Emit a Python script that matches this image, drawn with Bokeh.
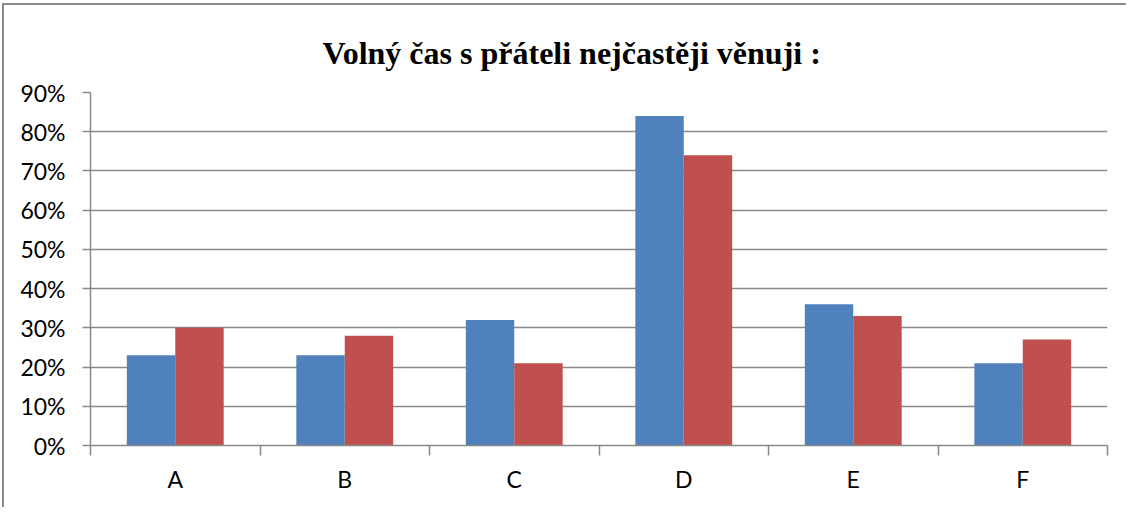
from bokeh.plotting import figure
from bokeh.models import (Range1d, FixedTicker, NumeralTickFormatter, ColumnDataSource)
from bokeh.transform import dodge
from bokeh.embed import file_html
from bokeh.resources import INLINE

categories = ["A", "B", "C", "D", "E", "F"]
series1 = [0.23, 0.23, 0.32, 0.84, 0.36, 0.21]
series2 = [0.30, 0.28, 0.21, 0.74, 0.33, 0.27]
y_ticks = [0.0, 0.1, 0.2, 0.3, 0.4, 0.5, 0.6, 0.7, 0.8, 0.9]
title_text = "Volný čas s přáteli nejčastěji věnuji :"

BLUE = "#4F81BD"
RED = "#C0504D"
GRID = "#898989"

centers = [i + 0.5 for i in range(len(categories))]
src = ColumnDataSource(dict(xc=centers, cat=categories, s1=series1, s2=series2))

p = figure(width=1124, height=504, output_backend="svg", toolbar_location=None,
           x_range=Range1d(0, len(categories)),
           y_range=Range1d(0, 0.9),
           min_border_left=86, min_border_right=21,
           min_border_top=87, min_border_bottom=64)

bar_w = 1 / 3.5
p.vbar(x=dodge("xc", -bar_w / 2), top="s1", width=bar_w,
       source=src, fill_color=BLUE, line_color=None)
p.vbar(x=dodge("xc", bar_w / 2), top="s2", width=bar_w,
       source=src, fill_color=RED, line_color=None)

xax = p.xaxis[0]
xax.ticker = FixedTicker(ticks=centers, minor_ticks=list(range(len(categories) + 1)))
xax.major_label_overrides = {c: lab for c, lab in zip(centers, categories)}
xax.major_tick_line_color = None
xax.major_tick_out = 0
xax.major_tick_in = 0
xax.minor_tick_out = 10
xax.minor_tick_in = 0
xax.minor_tick_line_color = GRID
xax.minor_tick_line_width = 1.5
xax.axis_line_color = GRID
xax.axis_line_width = 1.5
xax.major_label_text_font = "Lato"
xax.major_label_text_font_size = "23px"
xax.major_label_text_color = "#000000"
xax.major_label_standoff = 9

yax = p.yaxis[0]
yax.ticker = FixedTicker(ticks=y_ticks, minor_ticks=[])
yax.formatter = NumeralTickFormatter(format="0%")
yax.major_tick_out = 8
yax.major_tick_in = 0
yax.major_tick_line_color = GRID
yax.major_tick_line_width = 1.5
yax.axis_line_color = GRID
yax.axis_line_width = 1.5
yax.major_label_text_font = "Lato"
yax.major_label_text_font_size = "23px"
yax.major_label_text_color = "#000000"
yax.major_label_standoff = 17

p.xgrid.visible = False
p.ygrid.ticker = FixedTicker(ticks=y_ticks)
p.ygrid.grid_line_color = GRID
p.ygrid.grid_line_width = 1.5
p.outline_line_color = None

p.title.text = title_text
p.title.text_font = "Liberation Serif"
p.title.text_font_style = "bold"
p.title.text_font_size = "32px"
p.title.text_color = "#000000"
p.title.align = "left"
p.title.offset = 232
p.title.vertical_align = "top"
p.title.standoff = 40

p.styles = {"border-top": "2px solid #8a8a8a", "border-left": "2px solid #8a8a8a",
            "box-sizing": "border-box", "margin": "3px 0 0 2px"}

open("out.html", "w").write(file_html(p, INLINE))
